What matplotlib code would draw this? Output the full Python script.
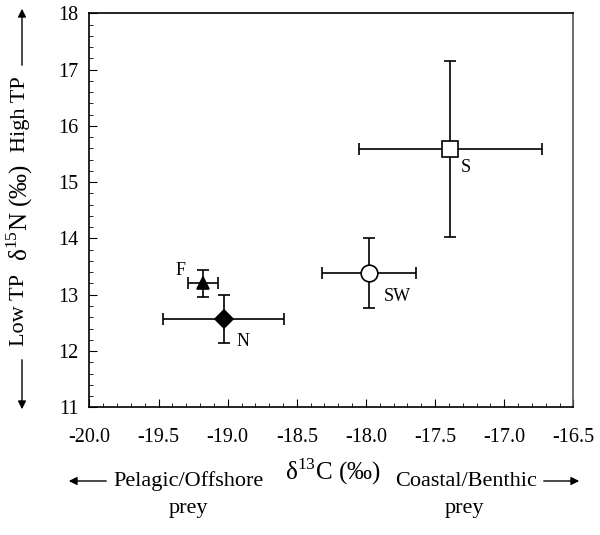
import matplotlib
matplotlib.use("Agg")
import matplotlib.pyplot as plt
from matplotlib.ticker import MultipleLocator, FormatStrFormatter

plt.rcParams['font.family'] = ['Liberation Serif', 'DejaVu Serif']
plt.rcParams['mathtext.fontset'] = 'custom'
plt.rcParams['mathtext.rm'] = 'Liberation Serif'

# group means and errors
groups = ["F", "N", "SW", "S"]
d13c = [-19.18, -19.03, -17.98, -17.39]
d13c_err = [0.11, 0.44, 0.34, 0.66]
d15n = [13.20, 12.57, 13.39, 15.59]
d15n_err = [0.24, 0.42, 0.62, 1.56]
markers = ["^", "D", "o", "s"]
faces = ["black", "black", "white", "white"]
msizes = [9, 9, 12, 11]
label_offsets = [(-22, 13), (19, -23), (29, -24), (16, -19)]

fig = plt.figure(figsize=(6.0, 5.35), dpi=100)
ax = fig.add_axes([0.149, 0.2387, 0.8066, 0.7364])

for i, g in enumerate(groups):
    ax.errorbar(d13c[i], d15n[i], xerr=d13c_err[i], yerr=d15n_err[i],
                fmt=markers[i], color="black", mfc=faces[i], mec="black",
                ms=msizes[i], mew=1.2, elinewidth=1.2, capsize=4, capthick=1.2,
                zorder=3)
    ax.annotate(g, (d13c[i], d15n[i]), xytext=label_offsets[i],
                textcoords="offset pixels", ha="center", va="center", fontsize=13)

ax.set_xlim(-20.0, -16.5)
ax.set_ylim(11, 18)
ax.xaxis.set_major_locator(MultipleLocator(0.5))
ax.xaxis.set_minor_locator(MultipleLocator(0.1))
ax.xaxis.set_major_formatter(FormatStrFormatter("%.1f"))
ax.yaxis.set_major_locator(MultipleLocator(1))
ax.yaxis.set_minor_locator(MultipleLocator(0.2))
ax.tick_params(which="both", direction="in", top=False, right=False, labelsize=14.5)
ax.tick_params(which="major", length=6)
ax.tick_params(which="minor", length=3)
ax.tick_params(axis="x", which="major", pad=15)
ax.tick_params(axis="y", which="major", pad=8)
for s in ax.spines.values():
    s.set_linewidth(1.2)
ax.spines["right"].set_color("#555555")


def fig_arrow(x0, y0, x1, y1):
    # arrow between two points given in pixels from the top-left corner
    ax.annotate("", xy=(x1 / 600, 1 - y1 / 535), xytext=(x0 / 600, 1 - y0 / 535),
                xycoords="figure fraction", annotation_clip=False,
                arrowprops=dict(arrowstyle="-|>", color="black", lw=1, mutation_scale=12))


def fig_text(x, y, s, size, rot=0):
    fig.text(x / 600, 1 - y / 535, s, ha="center", va="center", rotation=rot, fontsize=size)


# x axis labels
fig_text(333, 472, r"δ$^{13}$C (‰)", 18)
fig_text(188, 481, "Pelagic/Offshore", 16)
fig_text(188, 509, "prey", 16)
fig_text(466, 481, "Coastal/Benthic", 16)
fig_text(464, 509, "prey", 16)
fig_arrow(109, 481, 66, 481)
fig_arrow(541, 481, 582, 481)

# y axis labels
fig_text(20, 212, r"δ$^{15}$N (‰)", 18, 90)
fig_text(20, 114, "High TP", 16, 90)
fig_text(20, 310, "Low TP", 16, 90)
fig_arrow(22, 68, 22, 6)
fig_arrow(22, 357, 22, 412)

fig.savefig("out.png", dpi=100)
